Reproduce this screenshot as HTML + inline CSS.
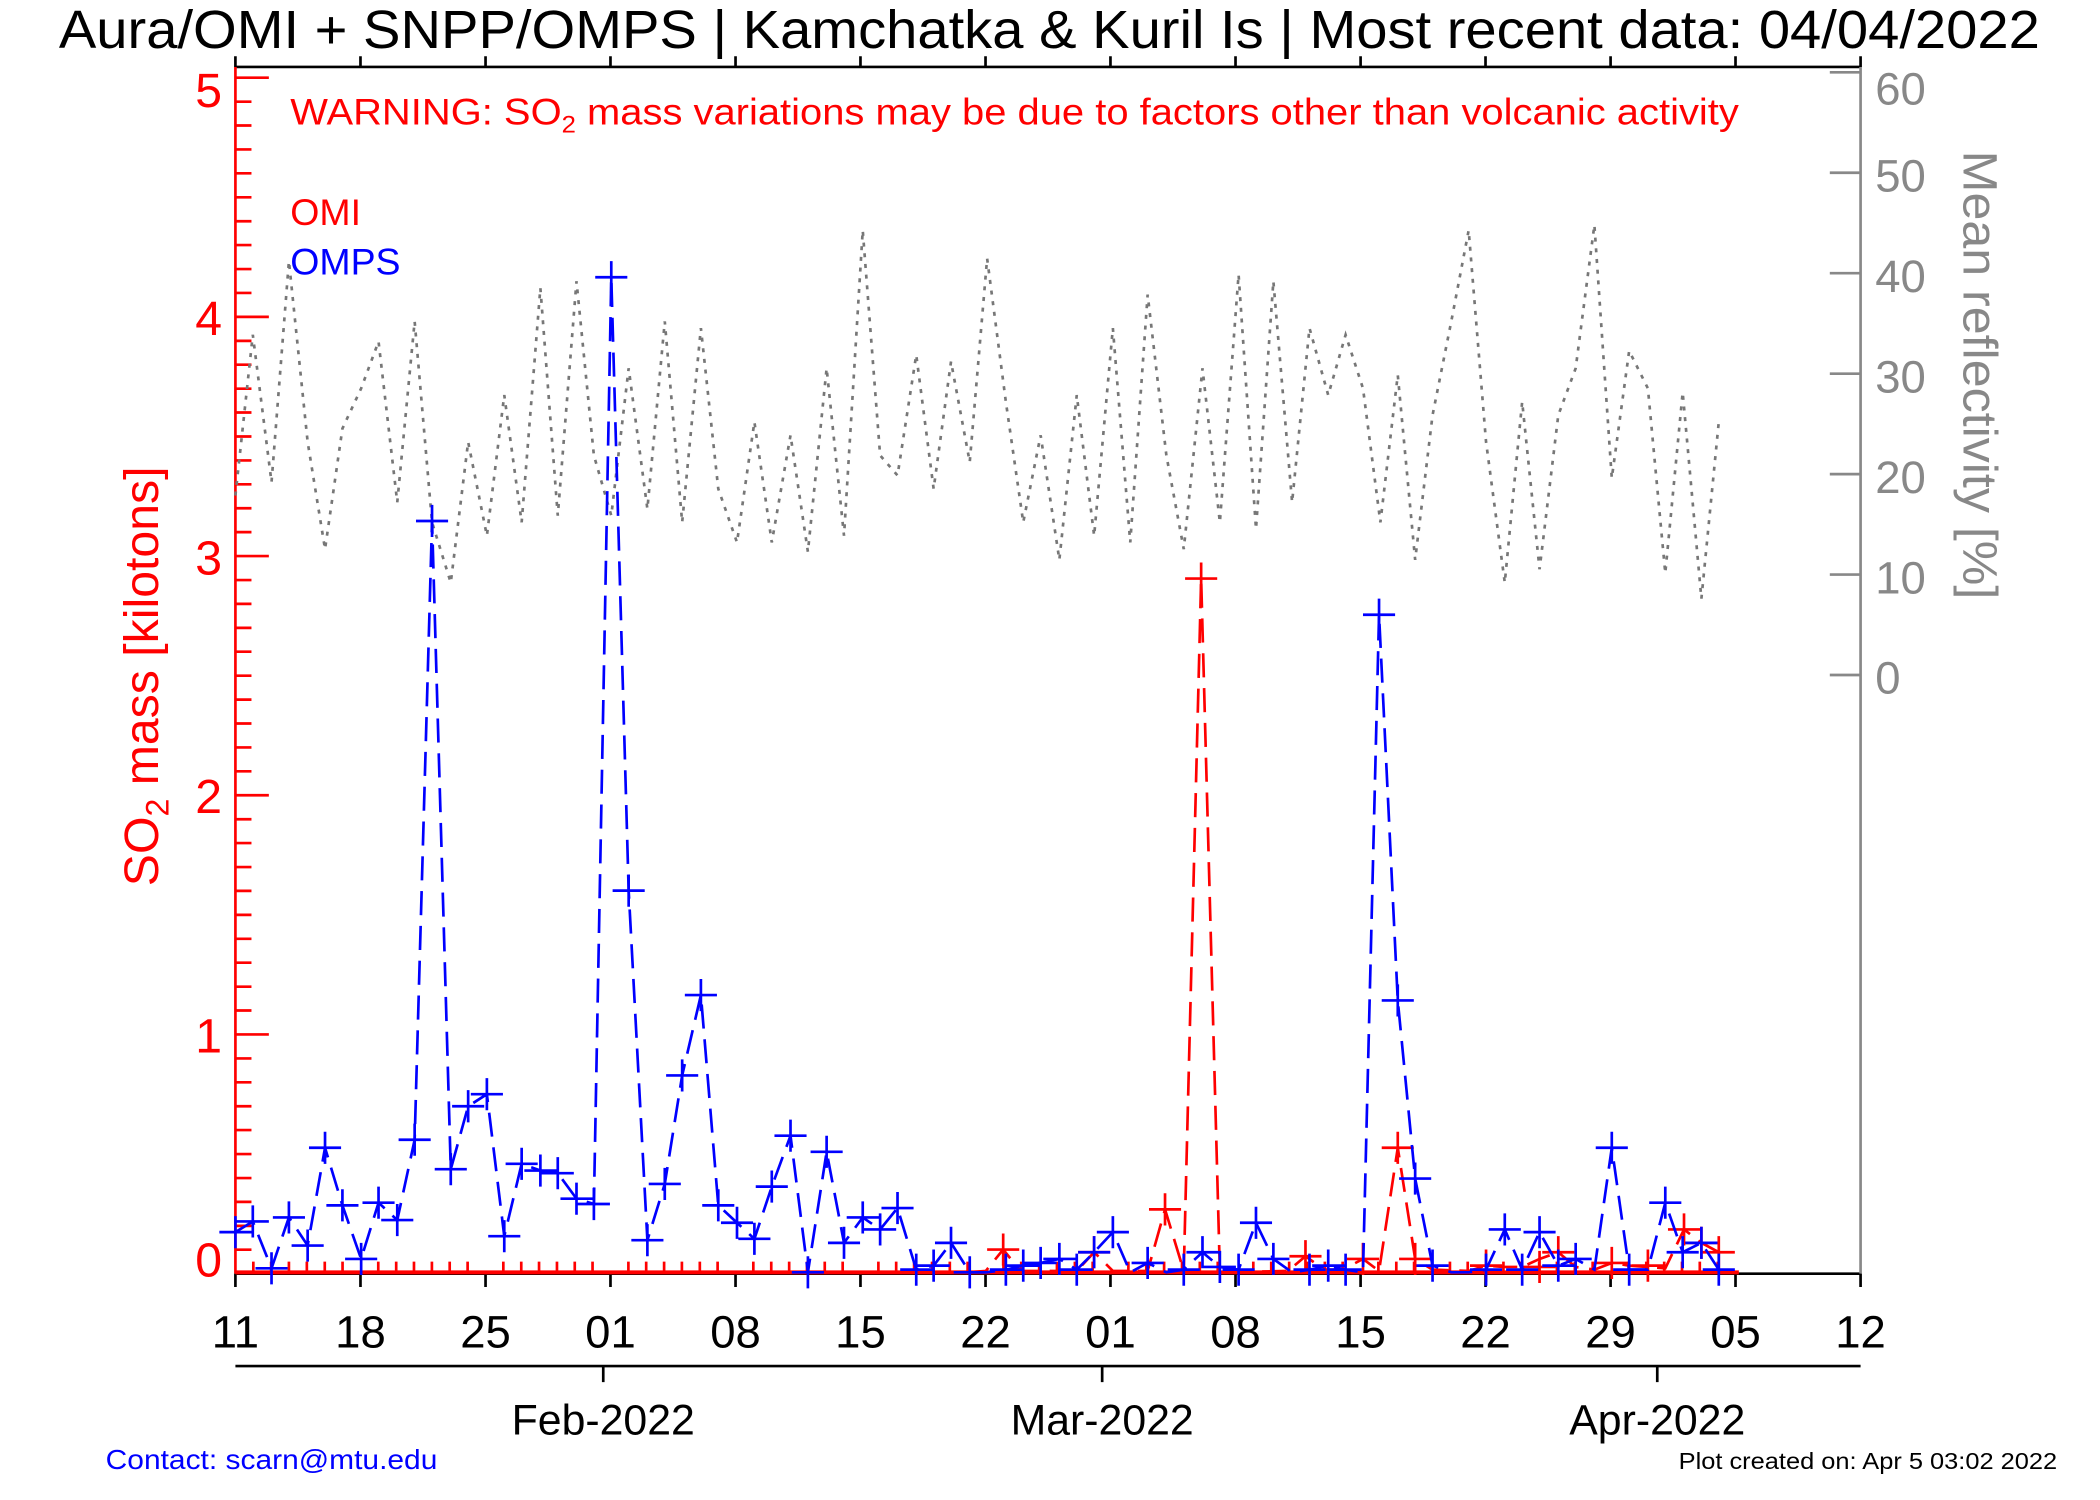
<!DOCTYPE html>
<html><head><meta charset="utf-8"><style>html,body{margin:0;padding:0;background:#fff}svg{display:block}</style></head>
<body>
<svg width="2100" height="1500" viewBox="0 0 1570 1120" preserveAspectRatio="none" xmlns="http://www.w3.org/2000/svg" font-family="Liberation Sans, Arial, sans-serif">
<rect width="1570" height="1120" fill="#fff"/>
<text x="44" y="36" font-size="40" textLength="1481" lengthAdjust="spacingAndGlyphs">Aura/OMI + SNPP/OMPS | Kamchatka &amp; Kuril Is | Most recent data: 04/04/2022</text>
<line x1="176" y1="50" x2="1391" y2="50" stroke="#000" stroke-width="2"/>
<line x1="176" y1="951" x2="1391" y2="951" stroke="#000" stroke-width="2"/>
<line x1="1391" y1="50" x2="1391" y2="951" stroke="#888" stroke-width="2"/>
<line x1="176" y1="50" x2="176" y2="951" stroke="#f00" stroke-width="2"/>
<path stroke="#000" stroke-width="2" d="M176 50v-8M269.5 50v-8M363 50v-8M456.4 50v-8M549.9 50v-8M643.3 50v-8M736.8 50v-8M830.2 50v-8M923.7 50v-8M1017.2 50v-8M1110.6 50v-8M1204.1 50v-8M1297.5 50v-8M1391 50v-8"/>
<path stroke="#000" stroke-width="2" d="M176 951v10M269.5 951v10M363 951v10M456.4 951v10M549.9 951v10M643.3 951v10M736.8 951v10M830.2 951v10M923.7 951v10M1017.2 951v10M1110.6 951v10M1204.1 951v10M1297.5 951v10M1391 951v10"/>
<g stroke="#f00" stroke-width="2">
<path d="M176 58h25M176 236.6h25M176 415.2h25M176 593.8h25M176 772.4h25"/>
<path d="M176 75.9h12M176 93.7h12M176 111.6h12M176 129.4h12M176 147.3h12M176 165.2h12M176 183h12M176 200.9h12M176 218.7h12
M176 254.5h12M176 272.3h12M176 290.2h12M176 308h12M176 325.9h12M176 343.8h12M176 361.6h12M176 379.5h12M176 397.3h12
M176 433.1h12M176 450.9h12M176 468.8h12M176 486.6h12M176 504.5h12M176 522.4h12M176 540.2h12M176 558.1h12M176 575.9h12
M176 611.7h12M176 629.5h12M176 647.4h12M176 665.2h12M176 683.1h12M176 701h12M176 718.8h12M176 736.7h12M176 754.5h12
M176 790.3h12M176 808.1h12M176 826h12M176 843.8h12M176 861.7h12M176 879.6h12M176 897.4h12M176 915.3h12M176 933.1h12"/>
<line x1="176" y1="950" x2="1300" y2="950" stroke-width="3"/>
</g>
<path stroke="#f00" stroke-width="2" d="M189.4 951v-9M202.7 951v-9M216 951v-9M229.4 951v-9M242.8 951v-9M256.1 951v-9M282.8 951v-9M296.2 951v-9M309.5 951v-9M322.9 951v-9M336.2 951v-9M349.6 951v-9M376.3 951v-9M389.7 951v-9M403 951v-9M416.4 951v-9M429.7 951v-9M443 951v-9M469.8 951v-9M483.1 951v-9M496.5 951v-9M509.8 951v-9M523.2 951v-9M536.5 951v-9M563.2 951v-9M576.6 951v-9M590 951v-9M603.3 951v-9M616.6 951v-9M630 951v-9M656.7 951v-9M670 951v-9M683.4 951v-9M696.8 951v-9M710.1 951v-9M723.4 951v-9M750.2 951v-9M763.5 951v-9M776.9 951v-9M790.2 951v-9M803.6 951v-9M816.9 951v-9M843.6 951v-9M857 951v-9M870.3 951v-9M883.7 951v-9M897 951v-9M910.4 951v-9M937 951v-9M950.4 951v-9M963.8 951v-9M977.1 951v-9M990.5 951v-9M1003.8 951v-9M1030.5 951v-9M1043.9 951v-9M1057.2 951v-9M1070.6 951v-9M1084 951v-9M1097.3 951v-9M1124 951v-9M1137.3 951v-9M1150.7 951v-9M1164 951v-9M1177.4 951v-9M1190.7 951v-9M1217.5 951v-9M1230.8 951v-9M1244.2 951v-9M1257.5 951v-9M1270.8 951v-9M1284.2 951v-9"/>
<path stroke="#888" stroke-width="2" d="M1368 54h23M1368 129h23M1368 204h23M1368 279h23M1368 354h23M1368 429h23M1368 504h23"/>
<g fill="#f00" font-size="36" text-anchor="end">
<text x="166" y="80">5</text><text x="166" y="250">4</text><text x="166" y="429">3</text><text x="166" y="607">2</text><text x="166" y="786">1</text><text x="166" y="953">0</text>
</g>
<text transform="translate(118,505) rotate(-90)" fill="#f00" font-size="36" text-anchor="middle">SO<tspan font-size="24" dy="8">2</tspan><tspan dy="-8"> mass [kilotons]</tspan></text>
<g fill="#888" font-size="34">
<text x="1402" y="78">60</text><text x="1402" y="143">50</text><text x="1402" y="218">40</text><text x="1402" y="293">30</text><text x="1402" y="368">20</text><text x="1402" y="443">10</text><text x="1402" y="518">0</text>
</g>
<text transform="translate(1468,280) rotate(90)" fill="#888" font-size="36" text-anchor="middle" textLength="335" lengthAdjust="spacingAndGlyphs">Mean reflectivity [%]</text>
<text x="217" y="93" fill="#f00" font-size="28" textLength="1083" lengthAdjust="spacingAndGlyphs">WARNING: SO<tspan font-size="18" dy="6">2</tspan><tspan dy="-6"> mass variations may be due to factors other than volcanic activity</tspan></text>
<text x="217" y="168" fill="#f00" font-size="28">OMI</text>
<text x="217" y="205" fill="#00f" font-size="28">OMPS</text>
<g font-size="34" text-anchor="middle" fill="#000">
<text x="176" y="1006">11</text><text x="269.5" y="1006">18</text><text x="363" y="1006">25</text><text x="456.4" y="1006">01</text><text x="549.9" y="1006">08</text><text x="643.3" y="1006">15</text><text x="736.8" y="1006">22</text><text x="830.2" y="1006">01</text><text x="923.7" y="1006">08</text><text x="1017.2" y="1006">15</text><text x="1110.6" y="1006">22</text><text x="1204.1" y="1006">29</text><text x="1297.5" y="1006">05</text><text x="1391" y="1006">12</text>
</g>
<line x1="176" y1="1020" x2="1391" y2="1020" stroke="#000" stroke-width="2"/>
<path stroke="#000" stroke-width="2" d="M451 1020v12M824 1020v12M1239 1020v12"/>
<g font-size="32" text-anchor="middle">
<text x="451" y="1071">Feb-2022</text><text x="824" y="1071">Mar-2022</text><text x="1239" y="1071">Apr-2022</text>
</g>
<text x="79" y="1097" fill="#00f" font-size="21" textLength="248" lengthAdjust="spacingAndGlyphs">Contact: scarn@mtu.edu</text>
<text x="1538" y="1097" font-size="17" text-anchor="end" textLength="283" lengthAdjust="spacingAndGlyphs">Plot created on: Apr  5 03:02 2022</text>
<polyline fill="none" stroke="#777" stroke-width="2" stroke-dasharray="3,5" points="176,370 189,250 203,360 216,195 230,330 243,410 256,320 270,290 283,255 297,375 310,240 323,390 337,435 350,330 364,400 377,295 390,390 404,215 417,385 431,210 444,340 457,385 470,275 484,380 497,240 510,390 524,245 537,365 551,405 564,315 577,405 591,325 604,412 618,275 631,400 645,172 658,340 671,355 685,265 698,365 711,270 725,345 738,193 752,300 765,390 778,325 792,418 805,295 818,400 832,245 845,405 858,220 872,340 885,410 899,275 912,390 926,205 939,395 952,210 966,375 979,245 993,295 1006,250 1019,290 1032,390 1045,280 1058,418 1071,310 1085,240 1098,172 1111,330 1125,435 1138,300 1151,425 1165,310 1178,275 1192,168 1205,357 1218,262 1232,290 1245,428 1258,293 1272,447 1285,315"/>
<polyline fill="none" stroke="#f00" stroke-width="2" stroke-dasharray="18,8" points="176,950 723,950 737,949 750,933 763,949 805,949 818,935 832,949 858,949 871,903 885,949 898,432 912,950 963,949 976,938 990,948 1004,948 1019,940 1031,949 1045,857 1058,940 1071,948 1098,949 1111,945 1124,946 1138,946 1151,940 1165,935 1178,946 1192,948 1205,943 1218,945 1232,946 1245,947 1259,918 1272,928 1285,935"/>
<path fill="none" stroke="#f00" stroke-width="2" d="M738 933h24m-12-12v24M859 903h24m-12-12v24M886 432h24m-12-12v24M964 938h24m-12-12v24M1007 940h24m-12-12v24M1033 857h24m-12-12v24M1046 940h24m-12-12v24M1099 945h24m-12-12v24M1153 935h24m-12-12v24M1193 943h24m-12-12v24M1247 918h24m-12-12v24M1260 928h24m-12-12v24M1273 935h24m-12-12v24M806 935h24m-12-12v24M1139 946h24m-12-12v24M1220 945h24m-12-12v24"/>
<polyline fill="none" stroke="#00f" stroke-width="2" stroke-dasharray="18,8" points="176,920 189,912 203,947 216,909 230,930 243,857 256,900 270,940 283,898 297,911 310,851 323,389 337,873 350,826 364,817 377,923 390,869 404,874 417,876 431,895 444,899 457,207 470,665 484,926 497,884 510,803 524,743 537,900 551,913 564,925 577,886 591,848 604,950 618,860 631,928 645,909 658,918 671,902 685,948 698,945 711,928 725,950 738,950 752,948 765,945 778,943 792,940 805,948 818,935 832,920 845,950 858,943 872,950 885,948 899,935 912,946 926,948 939,913 952,940 966,950 979,948 993,945 1006,948 1019,950 1031,459 1045,747 1058,880 1071,945 1085,950 1098,950 1111,948 1125,918 1138,948 1151,920 1165,945 1178,940 1192,948 1205,857 1218,948 1232,948 1245,898 1258,935 1272,928 1285,948"/>
<path fill="none" stroke="#00f" stroke-width="2" d="M164 920h24m-12-12v24M177 912h24m-12-12v24M191 947h24m-12-12v24M204 909h24m-12-12v24M218 930h24m-12-12v24M231 857h24m-12-12v24M244 900h24m-12-12v24M258 940h24m-12-12v24M271 898h24m-12-12v24M285 911h24m-12-12v24M298 851h24m-12-12v24M311 389h24m-12-12v24M325 873h24m-12-12v24M338 826h24m-12-12v24M352 817h24m-12-12v24M365 923h24m-12-12v24M378 869h24m-12-12v24M392 874h24m-12-12v24M405 876h24m-12-12v24M419 895h24m-12-12v24M432 899h24m-12-12v24M445 207h24m-12-12v24M458 665h24m-12-12v24M472 926h24m-12-12v24M485 884h24m-12-12v24M498 803h24m-12-12v24M512 743h24m-12-12v24M525 900h24m-12-12v24M539 913h24m-12-12v24M552 925h24m-12-12v24M565 886h24m-12-12v24M579 848h24m-12-12v24M592 950h24m-12-12v24M606 860h24m-12-12v24M619 928h24m-12-12v24M633 909h24m-12-12v24M646 918h24m-12-12v24M659 902h24m-12-12v24M673 948h24m-12-12v24M686 945h24m-12-12v24M699 928h24m-12-12v24M713 950h24m-12-12v24M740 948h24m-12-12v24M753 945h24m-12-12v24M766 943h24m-12-12v24M780 940h24m-12-12v24M793 948h24m-12-12v24M806 935h24m-12-12v24M820 920h24m-12-12v24M846 943h24m-12-12v24M873 948h24m-12-12v24M887 935h24m-12-12v24M900 946h24m-12-12v24M914 948h24m-12-12v24M927 913h24m-12-12v24M940 940h24m-12-12v24M967 948h24m-12-12v24M981 945h24m-12-12v24M994 948h24m-12-12v24M1019 459h24m-12-12v24M1033 747h24m-12-12v24M1046 880h24m-12-12v24M1059 945h24m-12-12v24M1099 948h24m-12-12v24M1113 918h24m-12-12v24M1126 948h24m-12-12v24M1139 920h24m-12-12v24M1153 945h24m-12-12v24M1166 940h24m-12-12v24M1193 857h24m-12-12v24M1206 948h24m-12-12v24M1233 898h24m-12-12v24M1246 935h24m-12-12v24M1260 928h24m-12-12v24M1273 948h24m-12-12v24"/>
</svg>
</body></html>
